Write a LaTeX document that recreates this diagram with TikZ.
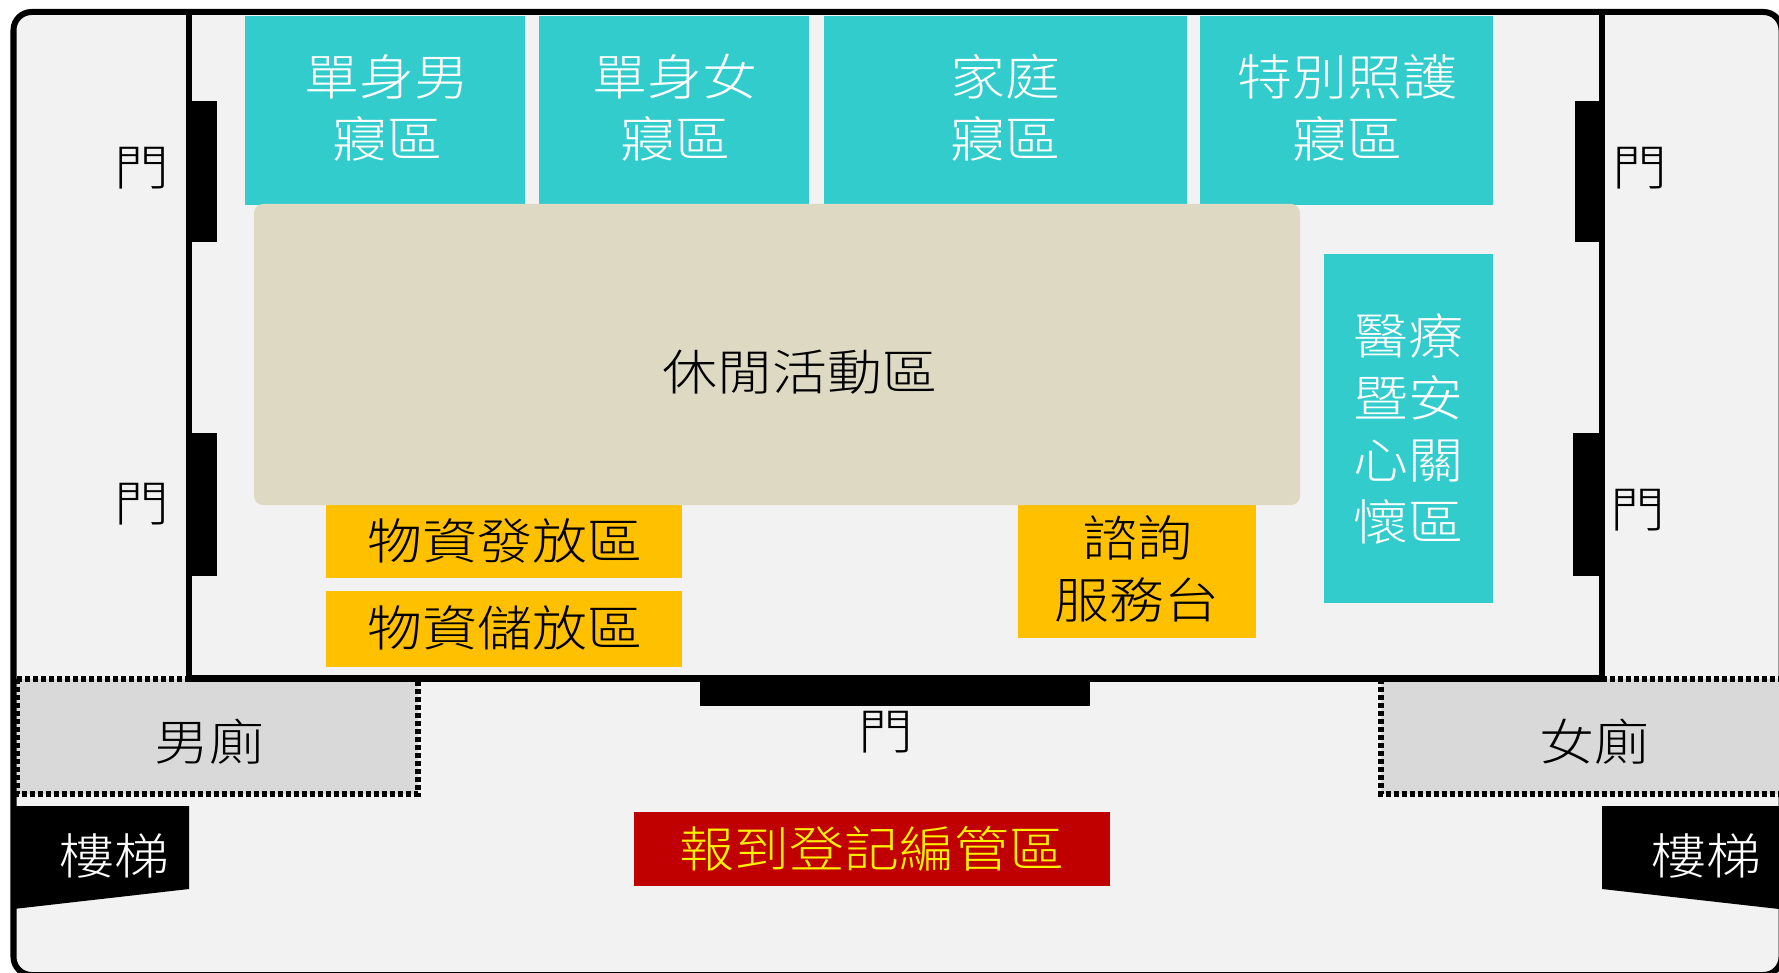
\documentclass[tikz,border=0pt]{standalone}
\usepackage{xcolor}
\usepackage{fontspec}
\newfontfamily\cjk[FakeStretch=1.125]{Noto Sans CJK TC Light}
\definecolor{roomfloor}{HTML}{F2F2F2}
\definecolor{sleepteal}{HTML}{33CCCC}
\definecolor{leisurebeige}{HTML}{DDD9C3}
\definecolor{supplyorange}{HTML}{FFC000}
\definecolor{toiletgray}{HTML}{D9D9D9}
\definecolor{checkinred}{HTML}{C00000}
\tikzset{
	zonelabel/.style={align=center, font=\cjk\fontsize{13.9}{17.7}\selectfont, inner sep=0pt},
	whitelabel/.style={zonelabel, text=white},
	wall/.style={line width=0.065cm, black},
	dottedwall/.style={line width=0.055cm, black, dash pattern=on 0.05cm off 0.03cm}
}

\begin{document}
\begin{tikzpicture}[x=0.01cm,y=-0.01cm]
	% Parameters
	\def\topy{15.7}
	\def\sleepy{205}
	\def\wallleft{189}
	\def\wallright{1602}
	\def\wallbottom{678.5}
	\def\toilettop{679}
	\def\toiletbottom{794}
	
	\useasboundingbox (0,0) rectangle (1779,973);
	
	%floor
	\draw[line width=0.06cm, black, fill=roomfloor, rounded corners=0.18cm] (13.5,12) rectangle (1781.5,975);
	
	%sleeping blocks
	\fill[sleepteal] (245,\topy) rectangle (525,\sleepy);
	\fill[sleepteal] (539,\topy) rectangle (809,\sleepy);
	\fill[sleepteal] (824,\topy) rectangle (1187,\sleepy);
	\fill[sleepteal] (1200,\topy) rectangle (1493,\sleepy);
	\fill[sleepteal] (1324,254) rectangle (1493,602.5);
	
	%supply and service blocks
	\fill[supplyorange] (325.6,505) rectangle (682,577.5);
	\fill[supplyorange] (325.6,591) rectangle (682,667);
	\fill[supplyorange] (1018,504) rectangle (1256,637.6);
	\fill[leisurebeige, rounded corners=0.09cm] (254,204) rectangle (1300,505);
	\fill[checkinred] (634,812) rectangle (1110,886);
	
	%toilets
	\fill[toiletgray] (17,\toilettop) rectangle (418,\toiletbottom);
	\fill[toiletgray] (1381,\toilettop) rectangle (1779,\toiletbottom);
	\draw[dottedwall] (17,\toilettop) -- (\wallleft,\toilettop);
	\draw[dottedwall] (\wallright,\toilettop) -- (1779,\toilettop);
	\draw[dottedwall] (17,\toilettop) -- (17,\toiletbottom) -- (418,\toiletbottom) -- (418,\toilettop);
	\draw[dottedwall] (1381,\toilettop) -- (1381,\toiletbottom) -- (1779,\toiletbottom);
	
	%walls
	\draw[wall] (\wallleft,12) rectangle (\wallright,\wallbottom);
	
	%doors
	\fill[black] (190,101) rectangle (217,241.7);
	\fill[black] (190,433) rectangle (217,576);
	\fill[black] (1575,101) rectangle (1602,241.7);
	\fill[black] (1572.5,433) rectangle (1602,576);
	\fill[black] (700,678) rectangle (1090,706);
	
	%stairs
	\fill[black] (13.5,806) -- (189,806) -- (189,889) -- (13.5,909) -- cycle;
	\fill[black] (1602,806) -- (1779,806) -- (1779,909) -- (1602,889) -- cycle;
	
	%labels
	\node[whitelabel] (single_men) at (387,108) {單身男\\寢區};
	\node[whitelabel] (single_women) at (675,108) {單身女\\寢區};
	\node[whitelabel] (family) at (1005,108) {家庭\\寢區};
	\node[whitelabel] (special_care) at (1347,108) {特別照護\\寢區};
	\node[whitelabel] (medical) at (1408,429) {醫療\\暨安\\心關\\懷區};
	\node[zonelabel] (leisure) at (800,372) {休閒活動區};
	\node[zonelabel] (supply_out) at (505,541) {物資發放區};
	\node[zonelabel] (supply_store) at (505,628) {物資儲放區};
	\node[zonelabel] (info_desk) at (1137,569) {諮詢\\服務台};
	\node[zonelabel] (men_toilet) at (209,742) {男廁};
	\node[zonelabel] (women_toilet) at (1594,742) {女廁};
	\node[whitelabel] (stairs_left) at (114.5,856) {樓梯};
	\node[whitelabel] (stairs_right) at (1706.5,856) {樓梯};
	\node[zonelabel, text=yellow] (checkin) at (872,849) {報到登記編管區};
	
	\node[zonelabel] (door_lu) at (142,168) {門};
	\node[zonelabel] (door_ll) at (142,504) {門};
	\node[zonelabel] (door_ru) at (1640,168) {門};
	\node[zonelabel] (door_rl) at (1638,510) {門};
	\node[zonelabel] (door_b) at (886,732) {門};
\end{tikzpicture}
\end{document}
